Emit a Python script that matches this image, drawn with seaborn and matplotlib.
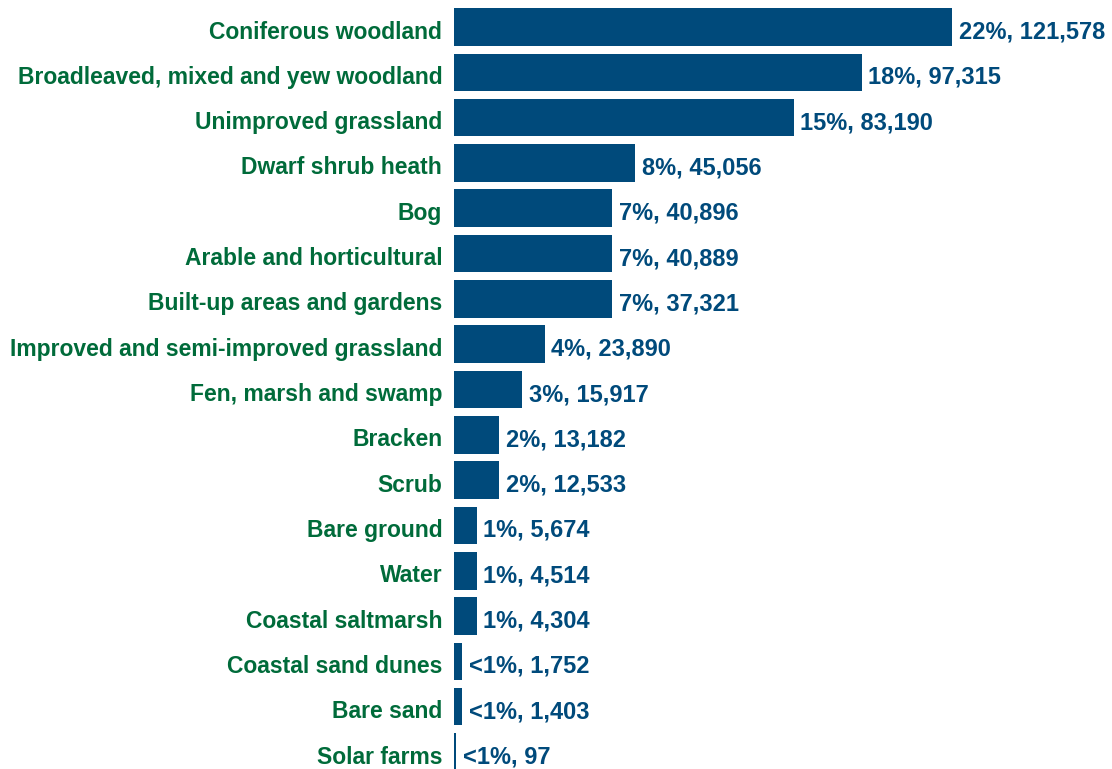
import matplotlib
matplotlib.use("Agg")
import matplotlib.pyplot as plt
import matplotlib.transforms as mtransforms
import seaborn as sns
import pandas as pd

# Habitat extent: share of total area (%) and area in hectares
habitats = [
    "Coniferous woodland",
    "Broadleaved, mixed and yew woodland",
    "Unimproved grassland",
    "Dwarf shrub heath",
    "Bog",
    "Arable and horticultural",
    "Built-up areas and gardens",
    "Improved and semi-improved grassland",
    "Fen, marsh and swamp",
    "Bracken",
    "Scrub",
    "Bare ground",
    "Water",
    "Coastal saltmarsh",
    "Coastal sand dunes",
    "Bare sand",
    "Solar farms",
]
share = [22, 18, 15, 8, 7, 7, 7, 4, 3, 2, 2, 1, 1, 1, 0.35, 0.35, 0.08]
share_text = ["22%", "18%", "15%", "8%", "7%", "7%", "7%", "4%", "3%", "2%",
              "2%", "1%", "1%", "1%", "<1%", "<1%", "<1%"]
hectares = [121578, 97315, 83190, 45056, 40896, 40889, 37321, 23890, 15917,
            13182, 12533, 5674, 4514, 4304, 1752, 1403, 97]

df = pd.DataFrame({"habitat": habitats, "share": share,
                   "share_text": share_text, "hectares": hectares})

BAR = "#004a7b"
GREEN = "#006b3a"

sns.set_theme(style="white")
plt.rcParams["font.family"] = ["Liberation Sans", "DejaVu Sans"]

fig = plt.figure(figsize=(11.12, 7.69), dpi=100)
ax = fig.add_axes([454 / 1112, 0, 658 / 1112, 1])

sns.barplot(data=df, x="share", y="habitat", orient="h", color=BAR,
            saturation=1, width=0.83, linewidth=0, edgecolor="none", ax=ax)

ax.set_xlim(0, 658 / 22.64)
ax.set_ylim(16.375, -0.596)

# nudge all text a couple of pixels down relative to the bar centres
nudge = mtransforms.ScaledTranslation(0, -2.5 / 100, fig.dpi_scale_trans)

for i, row in df.iterrows():
    ax.text(row["share"] + 0.3, i, f"{row['share_text']}, {row['hectares']:,}",
            va="center_baseline", ha="left", color=BAR, fontsize=17,
            fontweight="bold", transform=ax.transData + nudge)

ax.set_xlabel("")
ax.set_ylabel("")
ax.set_xticks([])
ax.tick_params(axis="y", length=0, pad=8.5)
for lab in ax.get_yticklabels():
    lab.set_color(GREEN)
    lab.set_fontweight("bold")
    lab.set_fontsize(16.5)
    lab.set_verticalalignment("center_baseline")
    lab.set_transform(lab.get_transform() + nudge)
for s in ax.spines.values():
    s.set_visible(False)

fig.savefig("out.png", dpi=100)
